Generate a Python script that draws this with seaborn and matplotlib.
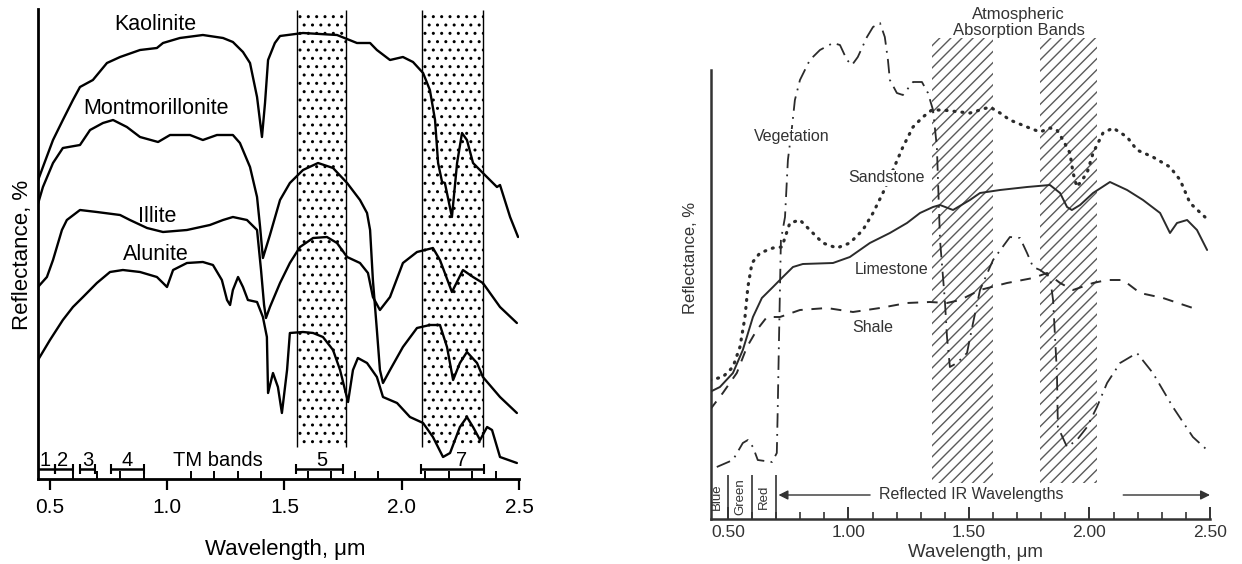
import numpy as np
import pandas as pd
import matplotlib
matplotlib.use("Agg")
import matplotlib.pyplot as plt
import seaborn as sns
from matplotlib.ticker import MultipleLocator, FormatStrFormatter

# ---------------- data: left panel (clay minerals), relative reflectance ----------------
kaol_w = [0.445,0.470,0.513,0.555,0.598,0.628,0.683,0.743,0.799,0.884,0.956,0.982,1.054,1.152,1.238,1.280,1.323,1.353,1.383,1.404,1.417,1.430,1.459,1.481,1.579,1.724,1.809,1.865,1.894,1.950,2.005,2.048,2.091,2.120,2.142,2.155,2.172,2.184,2.214,2.236,2.257,2.278,2.304,2.346,2.406,2.419,2.462,2.496]
kaol_r = [296,312,339,359,379,392,399,416,422,429,431,436,441,444,441,437,427,416,382,342,376,419,436,443,446,444,436,436,429,419,422,417,406,389,359,316,297,296,262,316,346,339,316,306,292,294,262,242]

mont_w = [0.445,0.470,0.513,0.555,0.628,0.671,0.726,0.769,0.828,0.884,0.961,1.012,1.097,1.152,1.212,1.280,1.310,1.353,1.383,1.396,1.408,1.421,1.438,1.481,1.523,1.579,1.643,1.707,1.767,1.822,1.852,1.865,1.877,1.894,1.907,1.920,1.950,2.005,2.065,2.120,2.163,2.193,2.219,2.248,2.278,2.321,2.346,2.419,2.491]
mont_r = [272,292,316,331,334,349,356,359,352,342,337,344,344,339,344,344,336,312,282,252,221,231,244,279,296,309,316,311,296,279,266,249,199,149,109,96,109,132,151,154,154,132,99,116,127,116,102,82,66]

illi_w = [0.449,0.487,0.513,0.551,0.572,0.628,0.700,0.799,0.841,0.914,0.982,1.084,1.182,1.238,1.280,1.340,1.383,1.400,1.413,1.421,1.438,1.481,1.523,1.566,1.622,1.681,1.724,1.767,1.822,1.856,1.877,1.907,1.950,2.005,2.065,2.133,2.163,2.214,2.261,2.304,2.346,2.419,2.491]
illi_r = [192,202,219,249,259,269,267,264,259,251,247,249,254,259,262,259,249,209,174,161,172,196,216,232,241,242,236,222,216,206,182,169,182,216,227,231,219,187,209,202,196,172,156]

alun_w = [0.449,0.500,0.555,0.598,0.641,0.700,0.756,0.811,0.884,0.956,0.982,0.999,1.025,1.084,1.152,1.195,1.233,1.255,1.268,1.280,1.302,1.323,1.344,1.383,1.408,1.425,1.430,1.451,1.472,1.489,1.511,1.523,1.579,1.622,1.664,1.707,1.737,1.771,1.792,1.813,1.852,1.894,1.920,1.980,2.035,2.091,2.133,2.176,2.206,2.248,2.278,2.304,2.334,2.364,2.385,2.419,2.491]
alun_r = [119,139,159,172,182,196,207,209,207,202,196,192,209,216,217,214,199,179,174,189,202,192,179,177,162,142,86,106,92,66,109,146,147,146,142,129,109,77,109,121,116,102,82,76,62,56,42,22,26,52,62,52,39,52,49,22,16]

left_names = ["Kaolinite", "Montmorillonite", "Illite", "Alunite"]
left_label_w = [0.948, 0.952, 0.956, 0.952]
left_label_r = [454, 371, 262, 224]

tm_bands = [(0.449, 0.52), (0.52, 0.60), (0.63, 0.69), (0.76, 0.90), (1.55, 1.75), (2.08, 2.35)]
tm_labels = ["1", "2", "3", "4", "5", "7"]
tm_label_w = [0.48, 0.555, 0.66, 0.83, 1.66, 2.255]
stipple_bands = [(1.552, 1.762), (2.086, 2.346)]

# ---------------- data: right panel (vegetation & rocks) ----------------
veg_w = [0.454,0.521,0.562,0.583,0.604,0.624,0.683,0.703,0.707,0.712,0.716,0.720,0.737,0.749,0.766,0.778,0.799,0.840,0.882,0.936,0.965,0.994,1.015,1.039,1.077,1.102,1.131,1.151,1.164,1.172,1.201,1.226,1.268,1.305,1.330,1.351,1.367,1.380,1.400,1.409,1.421,1.450,1.492,1.517,1.546,1.600,1.670,1.712,1.741,1.766,1.795,1.836,1.849,1.865,1.869,1.907,1.948,1.990,2.031,2.073,2.127,2.197,2.263,2.346,2.429,2.488]
veg_r = [52,59,76,79,72,59,57,66,112,179,229,279,302,359,392,419,439,459,469,476,474,459,454,462,482,492,496,482,459,439,426,424,437,437,426,409,372,279,219,182,152,156,166,196,229,259,282,281,266,252,249,242,219,146,92,72,79,92,112,136,156,166,146,112,82,69]

sand_w = [0.425,0.479,0.521,0.550,0.571,0.583,0.600,0.633,0.687,0.724,0.757,0.799,0.840,0.894,0.952,1.006,1.060,1.102,1.143,1.185,1.226,1.268,1.309,1.346,1.392,1.463,1.504,1.587,1.629,1.670,1.741,1.795,1.836,1.865,1.890,1.919,1.932,1.948,1.990,2.015,2.056,2.098,2.156,2.197,2.263,2.334,2.376,2.417,2.479]
sand_r = [139,142,152,172,202,232,256,266,271,272,296,299,289,276,271,276,289,306,326,349,372,392,402,409,409,407,406,412,406,399,392,387,391,389,379,366,346,332,346,366,386,391,382,369,362,352,339,316,302]

lime_w = [0.425,0.467,0.521,0.562,0.604,0.641,0.687,0.728,0.770,0.811,0.936,1.006,1.089,1.172,1.243,1.297,1.351,1.380,1.434,1.504,1.546,1.629,1.741,1.836,1.878,1.907,1.927,1.961,2.015,2.085,2.156,2.222,2.293,2.334,2.363,2.405,2.446,2.488]
lime_r = [127,132,146,169,202,221,232,242,252,255,256,262,276,286,296,306,312,314,309,319,326,329,332,334,326,312,309,314,326,337,329,319,306,286,296,299,289,269]

shale_w = [0.425,0.479,0.537,0.579,0.620,0.662,0.716,0.799,0.911,1.019,1.131,1.243,1.338,1.409,1.463,1.546,1.658,1.766,1.824,1.878,1.932,2.015,2.073,2.139,2.210,2.305,2.429]
shale_r = [109,126,146,172,189,202,202,209,211,207,211,216,217,216,219,229,236,241,246,236,229,236,239,239,226,221,211]

right_names = ["Vegetation", "Sandstone", "Limestone", "Shale"]
right_label_w = [0.766, 1.160, 1.180, 1.102]
right_label_r = [382, 341, 249, 191]
absorption_bands = [(1.347, 1.600), (1.795, 2.030)]
color_bands = ["Blue", "Green", "Red"]
color_band_edges = [0.5, 0.6, 0.7]
color_band_centers = [0.455, 0.55, 0.65]

# ---------------- styling ----------------
sns.set_theme(style="white")
plt.rcParams["font.family"] = ["Liberation Sans", "DejaVu Sans"]
plt.rcParams["hatch.linewidth"] = 1.0

fig = plt.figure(figsize=(12.42, 5.64), dpi=100)
W, H = 1242.0, 564.0
axL = fig.add_axes([38 / W, 1 - 479 / H, 481 / W, 470 / H])
axR = fig.add_axes([711 / W, 1 - 519 / H, 499 / W, 519 / H])
for ax in (axL, axR):
    ax.set_facecolor("white")
    ax.patch.set_alpha(0)

# ---------------- left panel ----------------
left_df = pd.concat([
    pd.DataFrame({"w": w, "r": r, "mineral": n})
    for w, r, n in [(kaol_w, kaol_r, "Kaolinite"), (mont_w, mont_r, "Montmorillonite"),
                    (illi_w, illi_r, "Illite"), (alun_w, alun_r, "Alunite")]
])
for name in left_names:
    sub = left_df[left_df.mineral == name]
    sns.lineplot(data=sub, x="w", y="r", ax=axL, color="black", lw=1.7,
                 sort=False, estimator=None, legend=False, zorder=3)

for s, e in stipple_bands:
    axL.fill_between([s, e], 32, 469, facecolor="white", edgecolor="black",
                     hatch="..", linewidth=0, zorder=1)
    axL.vlines([s, e], 32, 469, color="black", lw=1.0, zorder=2)

for (s, e), lab, lw_ in zip(tm_bands, tm_labels, tm_label_w):
    axL.plot([s, e], [10, 10], color="black", lw=1.8, solid_capstyle="butt", zorder=3)
    axL.vlines([s, e], 5, 15, color="black", lw=1.5, zorder=3)
    axL.text(lw_, 19, lab, ha="center", va="center", fontsize=14.5, color="black")
axL.text(1.216, 19, "TM bands", ha="center", va="center", fontsize=14.5, color="black")

for name, x, y in zip(left_names, left_label_w, left_label_r):
    axL.text(x, y, name, ha="center", va="center", fontsize=15.5, color="black")

axL.set_xlim(0.449, 2.5)
axL.set_ylim(0, 470)
sns.despine(ax=axL, top=True, right=True)
for sp in ("left", "bottom"):
    axL.spines[sp].set_color("black")
    axL.spines[sp].set_linewidth(2.0)
axL.set_yticks([])
axL.xaxis.set_major_locator(MultipleLocator(0.5))
axL.xaxis.set_minor_locator(MultipleLocator(0.1))
axL.xaxis.set_major_formatter(FormatStrFormatter("%.1f"))
axL.tick_params(axis="x", which="major", direction="out", length=8, width=1.6,
                color="black", labelsize=15, labelcolor="black", pad=6, bottom=True)
axL.tick_params(axis="x", which="minor", direction="in", length=6, width=1.4,
                color="black", bottom=True)
axL.set_xlabel("Wavelength, μm", fontsize=16, color="black", va="center")
axL.xaxis.set_label_coords(0.514, -0.151)
axL.set_ylabel("Reflectance, %", fontsize=16, color="black", va="center")
axL.yaxis.set_label_coords(-0.033, 0.477)

# ---------------- right panel ----------------
line_col = "#2b2b2b"
right_series = [
    (veg_w, veg_r, "Vegetation", dict(lw=1.3, linestyle=(0, (8, 3.5, 1, 3.5)))),
    (sand_w, sand_r, "Sandstone", dict(lw=2.3, linestyle=(0, (0.3, 2.2)), dash_capstyle="round")),
    (lime_w, lime_r, "Limestone", dict(lw=1.4, linestyle="-")),
    (shale_w, shale_r, "Shale", dict(lw=1.4, linestyle=(0, (5.5, 4.5)))),
]
for w, r, name, style in right_series:
    df = pd.DataFrame({"w": w, "r": r})
    sns.lineplot(data=df, x="w", y="r", ax=axR, color=line_col, sort=False,
                 estimator=None, legend=False, zorder=3, **style)

for s, e in absorption_bands:
    axR.fill_between([s, e], 36, 481, facecolor="none", edgecolor="#5a5a5a",
                     hatch="///", linewidth=0, zorder=1)

txt_col = "#333333"
for name, x, y in zip(right_names, right_label_w, right_label_r):
    axR.text(x, y, name, ha="center", va="center", fontsize=11.5, color=txt_col,
             bbox=dict(facecolor="white", edgecolor="none", pad=0.5), zorder=4)
axR.text(1.707, 504, "Atmospheric", ha="center", va="center", fontsize=12, color=txt_col)
axR.text(1.707, 489, "Absorption Bands", ha="center", va="center", fontsize=12, color=txt_col)

axR.vlines(color_band_edges, 0, 44, color=txt_col, lw=1.2, zorder=3)
for name, x in zip(color_bands, color_band_centers):
    axR.text(x, 22, name, rotation=90, ha="center", va="center", fontsize=9.5, color=txt_col)

arrow_kw = dict(arrowstyle="-|>", color=txt_col, lw=1.0, shrinkA=0, shrinkB=0, mutation_scale=14)
axR.annotate("", xy=(0.71, 24), xytext=(1.09, 24), arrowprops=arrow_kw)
axR.annotate("", xy=(2.50, 24), xytext=(2.14, 24), arrowprops=arrow_kw)
axR.text(1.51, 24, "Reflected IR Wavelengths", ha="center", va="center", fontsize=11.5, color=txt_col)

axR.set_xlim(0.43, 2.5)
axR.set_ylim(0, 519)
sns.despine(ax=axR, top=True, right=True)
for sp in ("left", "bottom"):
    axR.spines[sp].set_color("#333333")
    axR.spines[sp].set_linewidth(1.8)
axR.spines["left"].set_bounds(0, 449)
axR.set_yticks([])
axR.xaxis.set_major_locator(MultipleLocator(0.5))
axR.xaxis.set_minor_locator(MultipleLocator(0.1))
axR.xaxis.set_major_formatter(FormatStrFormatter("%.2f"))
axR.tick_params(axis="x", which="major", direction="in", length=9, width=1.4,
                color=txt_col, labelsize=12.5, labelcolor=txt_col, pad=4, bottom=True)
axR.tick_params(axis="x", which="minor", direction="in", length=5, width=1.2,
                color=txt_col, bottom=True)
axR.set_xlabel("Wavelength, μm", fontsize=13.5, color=txt_col, va="center")
axR.xaxis.set_label_coords(0.53, -0.0655)
axR.set_ylabel("Reflectance, %", fontsize=12, color=txt_col, va="center")
axR.yaxis.set_label_coords(-0.042, 0.503)

fig.savefig("out.png", dpi=100, facecolor="white")
